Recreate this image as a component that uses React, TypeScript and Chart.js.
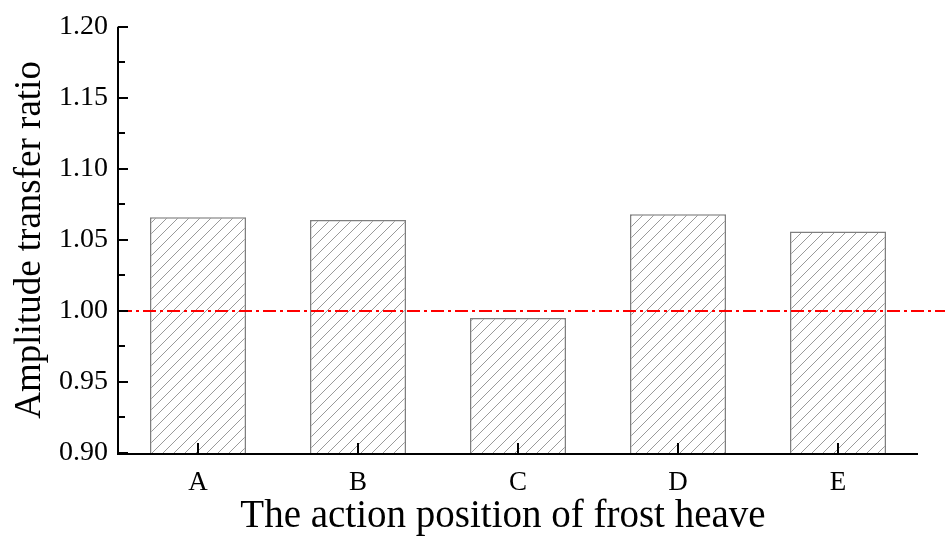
import React, { useEffect, useRef } from "react";
import { Chart, registerables } from "chart.js";

Chart.register(...registerables);

// Frost heave action positions and the resulting amplitude transfer ratio
const positions = ["A", "B", "C", "D", "E"];
const transferRatio = [1.066, 1.064, 0.995, 1.068, 1.056];
const referenceRatio = 1.0;
const yMin = 0.9;
const yMax = 1.2;
const yStep = 0.05;
const xTitle = "The action position of frost heave";

const SERIF = "'Liberation Serif', 'Times New Roman', serif";

function makeHatch(): CanvasPattern | string {
  const size = 11;
  const c = document.createElement("canvas");
  c.width = size;
  c.height = size;
  const g = c.getContext("2d");
  if (!g) return "#fff";
  g.fillStyle = "#ffffff";
  g.fillRect(0, 0, size, size);
  g.strokeStyle = "#9a9a9a";
  g.lineWidth = 1;
  g.beginPath();
  g.moveTo(-1, size + 1);
  g.lineTo(size + 1, -1);
  g.moveTo(-1, 1);
  g.lineTo(1, -1);
  g.moveTo(size - 1, size + 1);
  g.lineTo(size + 1, size - 1);
  g.stroke();
  return g.createPattern(c, "repeat") || "#fff";
}

// Axis lines, inward-pointing tick marks and the x axis title
const axisTicksPlugin = {
  id: "axisTicks",
  afterDatasetsDraw(chart: any) {
    const { ctx, chartArea, scales } = chart;
    const y = scales.y;
    const x = scales.x;
    ctx.save();
    ctx.strokeStyle = "#000";
    ctx.lineWidth = 2;
    ctx.beginPath();
    ctx.moveTo(chartArea.left, chartArea.top);
    ctx.lineTo(chartArea.left, chartArea.bottom + 1);
    ctx.lineTo(chartArea.right, chartArea.bottom + 1);
    ctx.stroke();
    const n = Math.round((yMax - yMin) / (yStep / 2));
    for (let i = 0; i <= n; i++) {
      const v = yMin + (i * yStep) / 2;
      const py = Math.round(y.getPixelForValue(v));
      const len = i % 2 === 0 ? 10 : 7;
      ctx.beginPath();
      ctx.moveTo(chartArea.left, py);
      ctx.lineTo(chartArea.left + len, py);
      ctx.stroke();
    }
    positions.forEach((_, i) => {
      const px = Math.round(x.getPixelForValue(i));
      ctx.beginPath();
      ctx.moveTo(px, chartArea.bottom);
      ctx.lineTo(px, chartArea.bottom - 10);
      ctx.stroke();
    });

    ctx.fillStyle = "#000";
    ctx.font = `39px ${SERIF}`;
    ctx.textAlign = "center";
    ctx.textBaseline = "alphabetic";
    ctx.fillText(xTitle, (chartArea.left + chartArea.right) / 2 - 15, chartArea.bottom + 74);
    ctx.restore();
  },
};

// Dash-dot reference line at ratio 1.00
const referencePlugin = {
  id: "referenceLine",
  afterDatasetsDraw(chart: any) {
    const { ctx, chartArea, scales } = chart;
    const py = scales.y.getPixelForValue(referenceRatio);
    ctx.save();
    ctx.strokeStyle = "#ff0000";
    ctx.lineWidth = 2;
    ctx.setLineDash([13, 4, 3, 4]);
    ctx.beginPath();
    ctx.moveTo(chartArea.left + 1, py);
    ctx.lineTo(chart.width - 6, py);
    ctx.stroke();
    ctx.restore();
  },
};

export default function App() {
  const ref = useRef<HTMLCanvasElement>(null);

  useEffect(() => {
    if (!ref.current) return;
    const chart = new Chart(ref.current, {
      type: "bar",
      data: {
        labels: positions,
        datasets: [
          {
            data: transferRatio,
            backgroundColor: makeHatch() as any,
            borderColor: "#7f7f7f",
            borderWidth: 1.5,
            borderSkipped: false,
            categoryPercentage: 1,
            barPercentage: 0.6,
          },
        ],
      },
      options: {
        animation: false,
        responsive: false,
        maintainAspectRatio: false,
        layout: { padding: { top: 24, right: 33, left: 0, bottom: 0 } },
        plugins: { legend: { display: false }, tooltip: { enabled: false } },
        scales: {
          x: {
            grid: { display: false, drawTicks: false },
            border: { display: false },
            ticks: {
              color: "#000",
              padding: 14,
              font: { family: SERIF, size: 27 },
            },
            afterFit(scale: any) {
              scale.height = 84;
            },
          },
          y: {
            min: yMin,
            max: yMax,
            grid: { display: false, drawTicks: false },
            border: { display: false },
            ticks: {
              stepSize: yStep,
              color: "#000",
              padding: 10,
              font: { family: SERIF, size: 28 },
              callback: (v: any) => Number(v).toFixed(2),
            },
            title: {
              display: true,
              text: "Amplitude transfer ratio",
              color: "#000",
              font: { family: SERIF, size: 37 },
              padding: { top: 8, bottom: 0 },
            },
            afterFit(scale: any) {
              scale.width = 118;
            },
          },
        },
      },
      plugins: [referencePlugin, axisTicksPlugin],
    });
    return () => chart.destroy();
  }, []);

  return (
    <div style={{ position: "fixed", left: 0, top: 0, width: 951, height: 537, background: "#fff" }}>
      <canvas ref={ref} width={951} height={537} />
    </div>
  );
}
